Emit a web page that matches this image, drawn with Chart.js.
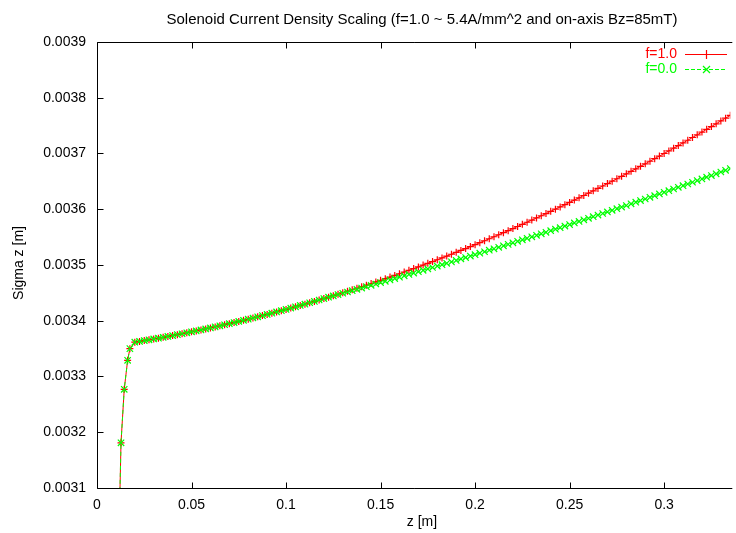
<!DOCTYPE html>
<html>
<head>
<meta charset="utf-8">
<script src="https://cdn.jsdelivr.net/npm/chart.js@4.4.1/dist/chart.umd.min.js"></script>
<style>
  html, body { margin: 0; padding: 0; background: #fff; }
  canvas { display: block; }
</style>
</head>
<body>
<canvas id="cnv" width="736" height="533"></canvas>
<script>
// z position along the beamline [m]
var zPos = [
  0.0114, 0.0127, 0.0144, 0.0162, 0.0174,
  0.0200, 0.0225, 0.0250, 0.0275, 0.0300, 0.0325, 0.0350, 0.0375, 0.0400, 0.0425,
  0.0450, 0.0475, 0.0500, 0.0525, 0.0550, 0.0575, 0.0600, 0.0625, 0.0650, 0.0675,
  0.0700, 0.0725, 0.0750, 0.0775, 0.0800, 0.0825, 0.0850, 0.0875, 0.0900, 0.0925,
  0.0950, 0.0975, 0.1000, 0.1025, 0.1050, 0.1075, 0.1100, 0.1125, 0.1150, 0.1175,
  0.1200, 0.1225, 0.1250, 0.1275, 0.1300, 0.1325, 0.1350, 0.1375, 0.1400, 0.1425,
  0.1450, 0.1475, 0.1500, 0.1525, 0.1550, 0.1575, 0.1600, 0.1625, 0.1650, 0.1675,
  0.1700, 0.1725, 0.1750, 0.1775, 0.1800, 0.1825, 0.1850, 0.1875, 0.1900, 0.1925,
  0.1950, 0.1975, 0.2000, 0.2025, 0.2050, 0.2075, 0.2100, 0.2125, 0.2150, 0.2175,
  0.2200, 0.2225, 0.2250, 0.2275, 0.2300, 0.2325, 0.2350, 0.2375, 0.2400, 0.2425,
  0.2450, 0.2475, 0.2500, 0.2525, 0.2550, 0.2575, 0.2600, 0.2625, 0.2650, 0.2675,
  0.2700, 0.2725, 0.2750, 0.2775, 0.2800, 0.2825, 0.2850, 0.2875, 0.2900, 0.2925,
  0.2950, 0.2975, 0.3000, 0.3025, 0.3050, 0.3075, 0.3100, 0.3125, 0.3150, 0.3175,
  0.3200, 0.3225, 0.3250, 0.3275, 0.3300, 0.3325, 0.3350, 0.3375
];

// sigma z [m], f=1.0
var sigmaF1 = [
  0.002982, 0.003181, 0.003277, 0.003329, 0.003350,
  0.0033615, 0.0033629, 0.0033644, 0.0033658, 0.0033673, 0.0033688, 0.0033703, 0.0033719, 0.0033735, 0.0033751,
  0.0033767, 0.0033784, 0.0033801, 0.0033818, 0.0033836, 0.0033854, 0.0033872, 0.0033890, 0.0033909, 0.0033928,
  0.0033948, 0.0033967, 0.0033987, 0.0034008, 0.0034028, 0.0034049, 0.0034070, 0.0034092, 0.0034113, 0.0034135,
  0.0034158, 0.0034180, 0.0034203, 0.0034227, 0.0034250, 0.0034274, 0.0034298, 0.0034323, 0.0034347, 0.0034372,
  0.0034398, 0.0034423, 0.0034449, 0.0034475, 0.0034502, 0.0034529, 0.0034556, 0.0034583, 0.0034611, 0.0034639,
  0.0034667, 0.0034696, 0.0034725, 0.0034754, 0.0034783, 0.0034813, 0.0034843, 0.0034874, 0.0034904, 0.0034935,
  0.0034966, 0.0034998, 0.0035030, 0.0035062, 0.0035094, 0.0035127, 0.0035160, 0.0035193, 0.0035227, 0.0035261,
  0.0035295, 0.0035330, 0.0035364, 0.0035400, 0.0035435, 0.0035471, 0.0035507, 0.0035543, 0.0035580, 0.0035616,
  0.0035654, 0.0035691, 0.0035729, 0.0035767, 0.0035805, 0.0035844, 0.0035883, 0.0035922, 0.0035962, 0.0036002,
  0.0036042, 0.0036082, 0.0036123, 0.0036164, 0.0036205, 0.0036247, 0.0036289, 0.0036331, 0.0036374, 0.0036417,
  0.0036460, 0.0036503, 0.0036547, 0.0036591, 0.0036635, 0.0036680, 0.0036725, 0.0036770, 0.0036815, 0.0036861,
  0.0036907, 0.0036954, 0.0037000, 0.0037047, 0.0037095, 0.0037142, 0.0037190, 0.0037238, 0.0037287, 0.0037335,
  0.0037384, 0.0037434, 0.0037483, 0.0037533, 0.0037584, 0.0037634, 0.0037685, 0.0037736
];

// sigma z [m], f=0.0
var sigmaF0 = [
  0.002982, 0.003181, 0.003277, 0.003329, 0.003350,
  0.0033615, 0.0033629, 0.0033644, 0.0033658, 0.0033673, 0.0033688, 0.0033703, 0.0033719, 0.0033735, 0.0033751,
  0.0033767, 0.0033784, 0.0033801, 0.0033818, 0.0033836, 0.0033854, 0.0033872, 0.0033890, 0.0033909, 0.0033928,
  0.0033948, 0.0033967, 0.0033987, 0.0034008, 0.0034028, 0.0034049, 0.0034070, 0.0034092, 0.0034113, 0.0034135,
  0.0034158, 0.0034180, 0.0034203, 0.0034227, 0.0034250, 0.0034274, 0.0034298, 0.0034323, 0.0034347, 0.0034372,
  0.0034398, 0.0034422, 0.0034446, 0.0034469, 0.0034493, 0.0034516, 0.0034540, 0.0034563, 0.0034587, 0.0034611,
  0.0034635, 0.0034659, 0.0034684, 0.0034708, 0.0034732, 0.0034756, 0.0034781, 0.0034806, 0.0034830, 0.0034855,
  0.0034879, 0.0034905, 0.0034930, 0.0034955, 0.0034980, 0.0035006, 0.0035031, 0.0035056, 0.0035082, 0.0035108,
  0.0035134, 0.0035160, 0.0035185, 0.0035212, 0.0035238, 0.0035265, 0.0035291, 0.0035317, 0.0035344, 0.0035370,
  0.0035398, 0.0035424, 0.0035451, 0.0035478, 0.0035505, 0.0035532, 0.0035560, 0.0035587, 0.0035615, 0.0035643,
  0.0035670, 0.0035698, 0.0035726, 0.0035754, 0.0035781, 0.0035810, 0.0035838, 0.0035866, 0.0035895, 0.0035924,
  0.0035952, 0.0035981, 0.0036010, 0.0036039, 0.0036067, 0.0036097, 0.0036126, 0.0036155, 0.0036184, 0.0036214,
  0.0036243, 0.0036274, 0.0036303, 0.0036333, 0.0036363, 0.0036393, 0.0036423, 0.0036453, 0.0036484, 0.0036514,
  0.0036544, 0.0036575, 0.0036605, 0.0036636, 0.0036668, 0.0036698, 0.0036730, 0.0036760
];

var seriesNames = ['f=1.0', 'f=0.0'];
var xTickVals = [0, 0.05, 0.1, 0.15, 0.2, 0.25, 0.3];
var xTickLabels = ['0', '0.05', '0.1', '0.15', '0.2', '0.25', '0.3'];
var yTickVals = [0.0031, 0.0032, 0.0033, 0.0034, 0.0035, 0.0036, 0.0037, 0.0038, 0.0039];
var yTickLabels = ['0.0031', '0.0032', '0.0033', '0.0034', '0.0035', '0.0036', '0.0037', '0.0038', '0.0039'];

const FONT = '"Liberation Sans", Arial, sans-serif';
const FSIZE = 14;
const RED = '#ff0000';
const GREEN = '#00ff00';

Chart.defaults.font.family = FONT;
Chart.defaults.font.size = FSIZE;
Chart.defaults.color = '#000';

var toPoints = function(ys) {
  return zPos.map(function(z, i) { return {x: z, y: ys[i]}; });
};

// gnuplot style frame, inward ticks, titles and key
const gnuplotFrame = {
  id: 'gnuplotFrame',
  afterDraw(chart) {
    const ctx = chart.ctx;
    const a = chart.chartArea;
    const sx = chart.scales.x, sy = chart.scales.y;
    const L = Math.round(a.left) + 0.5, B = Math.round(a.bottom) + 0.5, T = Math.round(a.top) + 0.5, R = a.right + 2;
    ctx.save();
    ctx.strokeStyle = '#000';
    ctx.lineWidth = 1;
    ctx.beginPath();
    ctx.moveTo(R, T); ctx.lineTo(L, T); ctx.lineTo(L, B); ctx.lineTo(R, B);
    xTickVals.forEach(function(v) {
      const px = Math.round(sx.getPixelForValue(v)) + 0.5;
      ctx.moveTo(px, B); ctx.lineTo(px, B - 6);
      ctx.moveTo(px, T); ctx.lineTo(px, T + 6);
    });
    yTickVals.forEach(function(v) {
      const py = Math.round(sy.getPixelForValue(v)) + 0.5;
      ctx.moveTo(L, py); ctx.lineTo(L + 6, py);
    });
    ctx.stroke();

    ctx.fillStyle = '#000';
    ctx.textAlign = 'center';
    ctx.textBaseline = 'middle';
    ctx.font = '15px ' + FONT;
    ctx.fillText('Solenoid Current Density Scaling (f=1.0 ~ 5.4A/mm^2 and on-axis Bz=85mT)', 422, 20);
    ctx.font = FSIZE + 'px ' + FONT;
    ctx.fillText('z [m]', 422, 522);
    ctx.save();
    ctx.translate(19, 263);
    ctx.rotate(-Math.PI / 2);
    ctx.fillText('Sigma z [m]', 0, 0);
    ctx.restore();

    // key
    var rows = [{y: 54, c: RED, dash: [], mark: 'plus'}, {y: 69, c: GREEN, dash: [4, 2], mark: 'x'}];
    rows.forEach(function(r, i) {
      ctx.textAlign = 'right';
      ctx.fillStyle = r.c;
      ctx.fillText(seriesNames[i], 677, r.y);
      ctx.strokeStyle = r.c;
      ctx.lineWidth = 1.2;
      ctx.setLineDash(r.dash);
      ctx.beginPath();
      ctx.moveTo(685, r.y + 0.5); ctx.lineTo(727, r.y + 0.5);
      ctx.stroke();
      ctx.setLineDash([]);
      ctx.beginPath();
      if (r.mark == 'plus') {
        ctx.moveTo(702, r.y + 0.5); ctx.lineTo(711, r.y + 0.5);
        ctx.moveTo(706.5, r.y - 4); ctx.lineTo(706.5, r.y + 5);
      } else {
        ctx.moveTo(703, r.y - 3); ctx.lineTo(710, r.y + 4);
        ctx.moveTo(703, r.y + 4); ctx.lineTo(710, r.y - 3);
      }
      ctx.stroke();
    });
    ctx.restore();
  }
};

const myChart = new Chart(document.getElementById('cnv').getContext('2d'), {
  type: 'line',
  data: {
    datasets: [{
      label: seriesNames[0],
      data: toPoints(sigmaF1),
      borderColor: RED,
      backgroundColor: RED,
      borderWidth: 1,
      pointStyle: 'cross',
      pointRadius: 3.5,
      pointBorderColor: RED,
      pointBorderWidth: 1.2,
      fill: false,
      order: 1
    }, {
      label: seriesNames[1],
      data: toPoints(sigmaF0),
      borderColor: GREEN,
      backgroundColor: GREEN,
      borderWidth: 1,
      borderDash: [4, 3],
      pointStyle: 'crossRot',
      pointRadius: 4.5,
      pointBorderColor: GREEN,
      pointBorderWidth: 1.2,
      fill: false,
      order: 0
    }]
  },
  options: {
    responsive: false,
    animation: false,
    layout: { padding: { top: 42, right: 0, left: 0, bottom: 0 } },
    plugins: {
      legend: { display: false },
      title: { display: false },
      tooltip: { enabled: false }
    },
    scales: {
      x: {
        type: 'linear',
        min: 0,
        max: 0.335,
        grid: { display: false, drawTicks: false },
        border: { display: false },
        afterBuildTicks: function(s) { s.ticks = xTickVals.map(function(v) { return {value: v}; }); },
        afterFit: function(s) { s.height = 45; },
        ticks: {
          padding: 9,
          maxRotation: 0,
          autoSkip: false,
          callback: function(v) { return xTickLabels[xTickVals.indexOf(v)]; }
        }
      },
      y: {
        type: 'linear',
        min: 0.0031,
        max: 0.0039,
        grid: { display: false, drawTicks: false },
        border: { display: false },
        afterBuildTicks: function(s) { s.ticks = yTickVals.map(function(v) { return {value: v}; }); },
        afterFit: function(s) { s.width = 97; },
        ticks: {
          padding: 11,
          autoSkip: false,
          callback: function(v) { return yTickLabels[yTickVals.indexOf(v)]; }
        }
      }
    }
  },
  plugins: [gnuplotFrame]
});
</script>
</body>
</html>
